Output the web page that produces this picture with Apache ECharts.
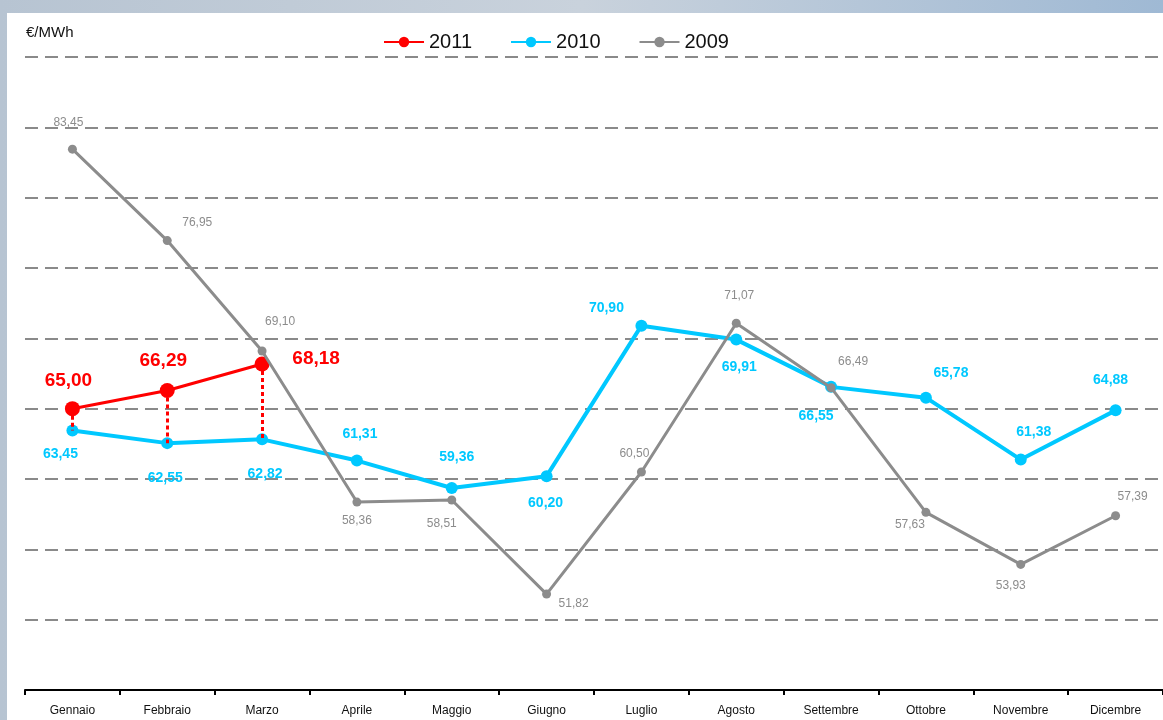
<!DOCTYPE html>
<html lang="it">
<head>
<meta charset="UTF-8">
<title>€/MWh 2009-2011</title>
<script src="https://cdn.jsdelivr.net/npm/echarts@6/dist/echarts.min.js"></script>
<style>
  html, body { margin: 0; padding: 0; }
  body {
    width: 1163px; height: 720px; overflow: hidden;
    background: linear-gradient(90deg, #b7c4d2 0%, #c9d2dc 50%, #9fb9d4 100%);
  }
  #chart { width: 1163px; height: 720px; }
</style>
</head>
<body>
<div id="chart"></div>
<script>
// dati
var mesi = ['Gennaio', 'Febbraio', 'Marzo', 'Aprile', 'Maggio', 'Giugno',
            'Luglio', 'Agosto', 'Settembre', 'Ottobre', 'Novembre', 'Dicembre'];
var val2011 = [65.00, 66.29, 68.18];
var val2010 = [63.45, 62.55, 62.82, 61.31, 59.36, 60.20, 70.90, 69.91, 66.55, 65.78, 61.38, 64.88];
var val2009 = [83.45, 76.95, 69.10, 58.36, 58.51, 51.82, 60.50, 71.07, 66.49, 57.63, 53.93, 57.39];

// spostamento etichette [dx, dy] rispetto al punto
var off2011 = [[-4, -28], [-4, -30], [54, -5]];
var off2010 = [[-12, 24], [-2, 35], [3, 35], [3, -26], [5, -31], [-1, 27],
               [-35, -18], [3, 28], [-15, 29], [25, -25], [13, -27], [-5, -30]];
var off2009 = [[-4, -26], [30, -18], [18, -29], [0, 19], [-10, 24], [27, 10],
               [-7, -18], [3, -28], [22, -26], [-16, 12], [-10, 21], [17, -19]];

function fmt(v) { return v.toFixed(2).replace('.', ','); }

function punti(vals, offs) {
  return vals.map(function (v, i) {
    return { value: v, label: { offset: offs[i] } };
  });
}

// linee tratteggiate verticali 2011 -> 2010
var diffLines = val2011.map(function (v, i) {
  return [{ coord: [mesi[i], v] }, { coord: [mesi[i], val2010[i]] }];
});

var chart = echarts.init(document.getElementById('chart'));

var option = {
  animation: false,
  textStyle: { fontFamily: 'Liberation Sans, Arial, sans-serif' },
  graphic: [
    { type: 'rect', z: -10, shape: { x: 7, y: 13, width: 1160, height: 710 },
      style: { fill: '#ffffff' } },
    { type: 'text', left: 26, top: 25,
      style: { text: '€/MWh', fontSize: 15, fill: '#111', fontFamily: 'Liberation Sans, Arial' } }
  ],
  legend: {
    left: 378, top: 27,
    itemWidth: 40, itemHeight: 13, itemGap: 38,
    textStyle: { fontSize: 20, color: '#111' },
    data: ['2011', '2010', '2009']
  },
  grid: { left: 25, top: 57, width: 1140, bottom: 30 },
  xAxis: {
    type: 'category',
    data: mesi,
    boundaryGap: true,
    axisLine: { lineStyle: { color: '#000', width: 2 } },
    axisTick: { show: true, length: 5, lineStyle: { color: '#000', width: 2 } },
    axisLabel: { fontSize: 12, color: '#111', margin: 15, interval: 0 }
  },
  yAxis: {
    type: 'value',
    min: 45, max: 90, interval: 5,
    axisLabel: { show: false },
    axisLine: { show: false },
    axisTick: { show: false },
    splitLine: { lineStyle: { color: '#8a8a8a', width: 2, type: [13, 7] } }
  },
  series: [
    {
      name: '2010', type: 'line', z: 2,
      data: punti(val2010, off2010),
      color: '#00c8ff',
      lineStyle: { width: 4 },
      symbol: 'circle', symbolSize: 12,
      label: {
        show: true, position: 'inside', color: '#00c8ff',
        fontSize: 14, fontWeight: 'bold',
        formatter: function (p) { return fmt(p.value); }
      }
    },
    {
      name: '2009', type: 'line', z: 4,
      data: punti(val2009, off2009),
      color: '#8c8c8c',
      lineStyle: { width: 3 },
      symbol: 'circle', symbolSize: 9,
      label: {
        show: true, position: 'inside', color: '#8c8c8c',
        fontSize: 12,
        formatter: function (p) { return fmt(p.value); }
      }
    },
    {
      name: '2011', type: 'line', z: 3,
      data: punti(val2011, off2011),
      color: '#ff0000',
      lineStyle: { width: 3 },
      symbol: 'circle', symbolSize: 15,
      label: {
        show: true, position: 'inside', color: '#ff0000',
        fontSize: 19, fontWeight: 'bold',
        formatter: function (p) { return fmt(p.value); }
      },
      markLine: {
        silent: true, symbol: 'none', label: { show: false },
        lineStyle: { color: '#ff0000', width: 3, type: [4, 3] },
        data: diffLines
      }
    }
  ]
};

chart.setOption(option);
</script>
</body>
</html>
